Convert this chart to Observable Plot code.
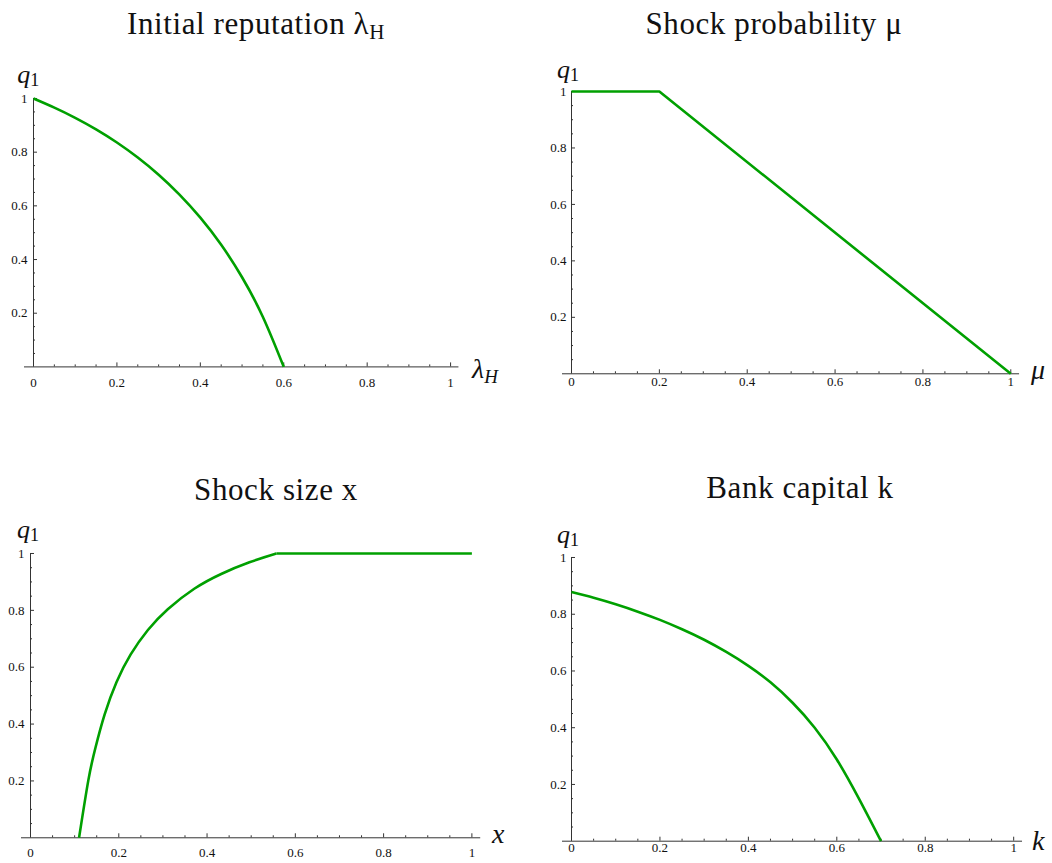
<!DOCTYPE html>
<html><head><meta charset="utf-8">
<script src="https://cdn.jsdelivr.net/npm/d3@7"></script>
<script src="https://cdn.jsdelivr.net/npm/@observablehq/plot@0.6"></script>
<style>
body{margin:0;background:#fff;}
#root{position:relative;width:1052px;height:863px;overflow:hidden;background:#fff;}
.panel{position:absolute;}
#overlay{position:absolute;left:0;top:0;pointer-events:none;}
</style></head><body><div id="root"></div>
<script>
// ---- data ----
const xTicks = [0, 0.2, 0.4, 0.6, 0.8, 1];
const xTickLabels = ["0", "0.2", "0.4", "0.6", "0.8", "1"];
const yTicks = [0.2, 0.4, 0.6, 0.8, 1];
const yTickLabels = ["0.2", "0.4", "0.6", "0.8", "1"];
const minorTicks = [0.05, 0.1, 0.15, 0.25, 0.3, 0.35, 0.45, 0.5, 0.55, 0.65, 0.7, 0.75, 0.85, 0.9, 0.95];

const titles = ["Initial reputation λ", "Shock probability μ", "Shock size x", "Bank capital k"];
const titleSubs = ["H", "", "", ""];
const xLabels = ["λ", "μ", "x", "k"];
const xLabelSubs = ["H", "", "", ""];

// Panel 1: initial reputation lambda_H
const lambdaH = [0, 0.05, 0.1, 0.15, 0.2, 0.25, 0.3, 0.35, 0.4, 0.45, 0.5, 0.55, 0.6];
const q1Lambda = [1, 0.966, 0.928, 0.885, 0.836, 0.780, 0.716, 0.642, 0.556, 0.455, 0.334, 0.186, 0];

// Panel 2: shock probability mu
const mu = [0, 0.2, 1];
const q1Mu = [1, 1, 0];

// Panel 3: shock size x
const shockX = [0.11, 0.131, 0.147, 0.168, 0.195, 0.227, 0.266, 0.311, 0.371, 0.432, 0.496, 0.557, 1];
const q1Shock = [0, 0.202, 0.316, 0.434, 0.548, 0.645, 0.731, 0.804, 0.876, 0.928, 0.969, 1, 1];

// Panel 4: bank capital k
const capK = [0, 0.05, 0.1, 0.15, 0.2, 0.25, 0.3, 0.35, 0.4, 0.45, 0.5, 0.55, 0.6, 0.65, 0.7];
const q1Cap = [0.878, 0.858, 0.835, 0.809, 0.780, 0.747, 0.710, 0.667, 0.618, 0.560, 0.488, 0.400, 0.288, 0.150, 0];

// ---- layout ----
const GREEN = "#00a000";
const AXIS = "#333";
const layouts = [
  {x0: 32.5, x1: 449.6, y1: 98.3, y0: 366.7, xPad: 11, yPad: 6},
  {x0: 570.7, x1: 1010, y1: 91, y0: 373.3, xPad: 3, yPad: 5},
  {x0: 30.3, x1: 471.7, y1: 552.5, y0: 836.8, xPad: 10, yPad: 6},
  {x0: 570.5, x1: 1012.7, y1: 557, y0: 840.7, xPad: 2, yPad: 5}
];

function seriesMarks(i) {
  const lineOpts = {stroke: GREEN, strokeWidth: 2.6, strokeLinejoin: "round", strokeLinecap: "butt"};
  if (i === 0) return [Plot.line(lambdaH, {x: lambdaH, y: q1Lambda, curve: "natural", ...lineOpts})];
  if (i === 1) return [Plot.line(mu, {x: mu, y: q1Mu, curve: "linear", ...lineOpts})];
  if (i === 2) {
    const k = q1Shock.indexOf(1);
    const xs1 = shockX.slice(0, k + 1), ys1 = q1Shock.slice(0, k + 1);
    const xs2 = shockX.slice(k), ys2 = q1Shock.slice(k);
    return [
      Plot.line(xs1, {x: xs1, y: ys1, curve: "natural", ...lineOpts}),
      Plot.line(xs2, {x: xs2, y: ys2, curve: "linear", ...lineOpts})
    ];
  }
  return [Plot.line(capK, {x: capK, y: q1Cap, curve: "natural", ...lineOpts})];
}

const root = document.getElementById("root");
layouts.forEach((L, i) => {
  const mL = 40, mR = 24, mT = 12, mB = 34;
  const w = mL + (L.x1 - L.x0) * 1.02 + mR;
  const h = mT + (L.y0 - L.y1) + mB;
  const chart = Plot.plot({
    width: w, height: h,
    marginLeft: mL, marginRight: mR, marginTop: mT, marginBottom: mB,
    x: {domain: [0, 1.02]},
    y: {domain: [0, 1]},
    style: {fontFamily: "'Liberation Serif', serif", fontSize: "13px", color: "#111", background: "transparent", overflow: "visible"},
    marks: [
      Plot.ruleY([0], {stroke: AXIS, strokeWidth: 1, insetLeft: -9}),
      Plot.ruleX([0], {stroke: AXIS, strokeWidth: 1}),
      Plot.axisX(minorTicks, {tickSize: 2, dy: -2, fill: "none", stroke: AXIS, label: null}),
      Plot.axisX(xTicks, {tickSize: 4, dy: -4, fill: "none", stroke: AXIS, label: null}),
      Plot.axisX(xTicks, {tickSize: 0, tickPadding: L.xPad, stroke: "none", fill: "#111", label: null,
        tickFormat: d => xTickLabels[xTicks.indexOf(d)]}),
      Plot.axisY(minorTicks, {tickSize: 2, dx: 2, fill: "none", stroke: AXIS, label: null}),
      Plot.axisY(yTicks, {tickSize: 4, dx: 4, fill: "none", stroke: AXIS, label: null}),
      Plot.axisY(yTicks, {tickSize: 0, tickPadding: L.yPad, stroke: "none", fill: "#111", label: null,
        tickFormat: d => yTickLabels[yTicks.indexOf(d)]}),
      ...seriesMarks(i)
    ]
  });
  chart.classList.add("panel");
  chart.style.left = (L.x0 - mL) + "px";
  chart.style.top = (L.y1 - mT) + "px";
  root.appendChild(chart);
});

// ---- overlay text (titles and axis labels) ----
const titlePos = [{cx: 256, y: 34}, {cx: 774, y: 34}, {cx: 276, y: 500}, {cx: 800, y: 498}];
const qPos = [{x: 17.3, y: 83}, {x: 557, y: 78.3}, {x: 17, y: 538}, {x: 557, y: 542.7}];
const xLabPos = [{x: 472, y: 378}, {x: 1031, y: 379}, {x: 492, y: 843}, {x: 1032, y: 850}];

const NS = "http://www.w3.org/2000/svg";
const ov = document.createElementNS(NS, "svg");
ov.setAttribute("id", "overlay");
ov.setAttribute("width", 1052);
ov.setAttribute("height", 863);
function addText(x, y, main, sub, opts) {
  const t = document.createElementNS(NS, "text");
  t.setAttribute("x", x);
  t.setAttribute("y", y);
  t.setAttribute("font-family", "'Liberation Serif', serif");
  t.setAttribute("font-size", opts.size);
  t.setAttribute("fill", "#111");
  if (opts.anchor) t.setAttribute("text-anchor", opts.anchor);
  if (opts.spacing) t.setAttribute("letter-spacing", opts.spacing);
  const s1 = document.createElementNS(NS, "tspan");
  if (opts.italic) s1.setAttribute("font-style", "italic");
  s1.textContent = main;
  t.appendChild(s1);
  if (sub) {
    const s2 = document.createElementNS(NS, "tspan");
    s2.setAttribute("font-size", opts.subSize);
    s2.setAttribute("dy", opts.subDy);
    if (opts.subItalic) s2.setAttribute("font-style", "italic");
    s2.textContent = sub;
    t.appendChild(s2);
  }
  ov.appendChild(t);
}
titles.forEach((tt, i) => {
  addText(titlePos[i].cx, titlePos[i].y, tt, titleSubs[i], {size: 31, anchor: "middle", spacing: 0.6, subSize: 21, subDy: 5});
});
qPos.forEach(p => addText(p.x, p.y, "q", "1", {size: 26, italic: true, subSize: 18, subDy: 3}));
xLabels.forEach((lab, i) => {
  addText(xLabPos[i].x, xLabPos[i].y, lab, xLabelSubs[i], {size: 28, italic: true, subSize: 19, subDy: 5, subItalic: true});
});
root.appendChild(ov);
</script>
</body></html>
